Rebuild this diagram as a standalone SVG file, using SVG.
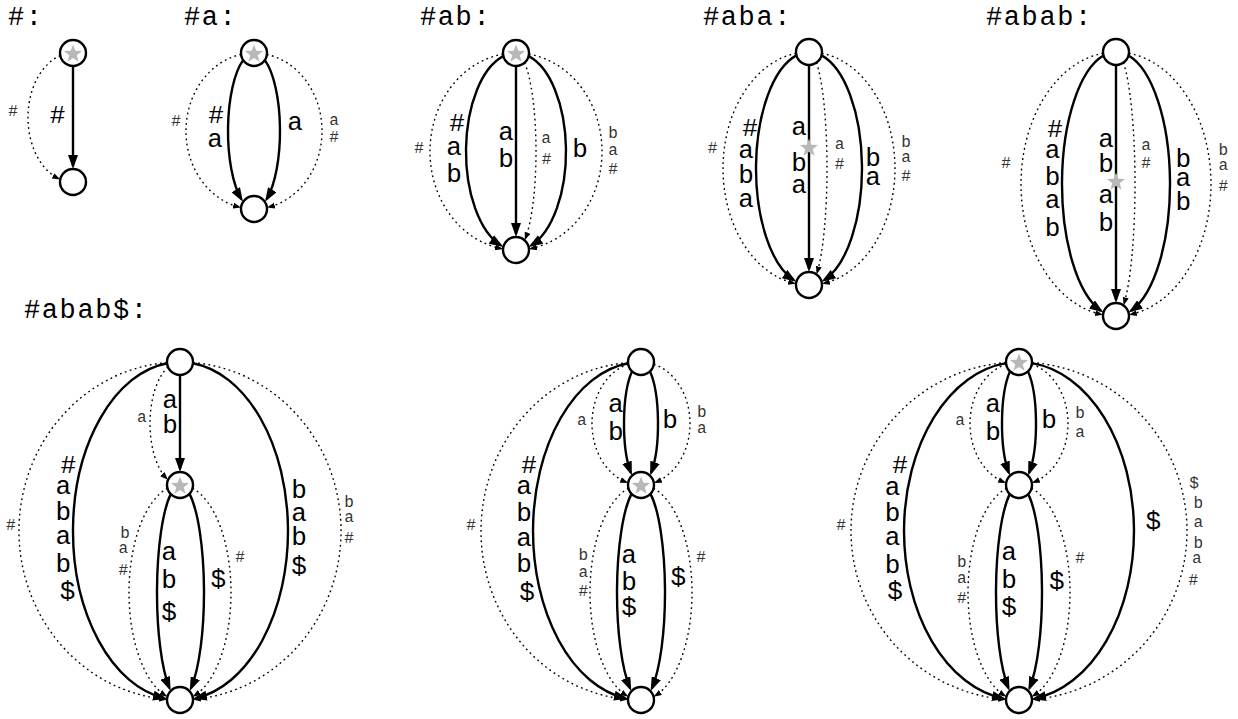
<svg xmlns="http://www.w3.org/2000/svg" xmlns:xlink="http://www.w3.org/1999/xlink" width="1238" height="719" viewBox="0 0 1238 719">
<defs>
<style>
.s{fill:none;stroke:#000;stroke-width:2.4;marker-end:url(#ah)}
.d{fill:none;stroke:#000;stroke-width:1.4;stroke-dasharray:1.8 3.4;marker-end:url(#ad)}
.n{fill:#fff;stroke:#000;stroke-width:2.4}
.st{fill:#b8b8b8}
.t{font-family:"Liberation Mono",monospace;font-size:27px;letter-spacing:1.6px;fill:#000}
.L{font-family:"Liberation Mono",monospace;font-size:26px;text-anchor:middle;fill:#000}
.m{font-family:"Liberation Mono",monospace;font-size:16px;text-anchor:middle;fill:#333}
</style>
<marker id="ah" viewBox="0 0 14 10" refX="11" refY="5" markerWidth="14" markerHeight="10" markerUnits="userSpaceOnUse" orient="auto"><path d="M0,0L14,5L0,10z" fill="#000"/></marker>
<marker id="ad" viewBox="0 0 8 6" refX="6" refY="3" markerWidth="8" markerHeight="6" markerUnits="userSpaceOnUse" orient="auto"><path d="M0,0L8,3L0,6z" fill="#000"/></marker>
<polygon id="star" points="0,-9.5 2.3,-3.16 9.04,-2.94 3.72,1.21 5.58,7.69 0,3.9 -5.58,7.69 -3.72,1.21 -9.04,-2.94 -2.3,-3.16"/>
</defs>
<rect width="1238" height="719" fill="#fff"/>

<g id="titles">
<text class="t" x="8" y="25">#:</text>
<text class="t" x="184" y="25">#a:</text>
<text class="t" x="420" y="25">#ab:</text>
<text class="t" x="703" y="25">#aba:</text>
<text class="t" x="986" y="25">#abab:</text>
<text class="t" x="24" y="318">#abab$:</text>
</g>

<g id="connectors">
<path class="s" d="M73,66V166"/>
<path class="d" d="M60.27,55.63A45,64.5 0 0 0 58.41,178.52"/>
<path class="s" d="M243.13,60.14A26,78 0 0 0 241.37,199.18"/>
<path class="s" d="M264.87,60.14A26,78 0 0 1 266.63,199.18"/>
<path class="d" d="M241.08,54.42A68,78 0 0 0 239.12,207.11"/>
<path class="d" d="M266.92,54.42A68,78 0 0 1 268.88,207.11"/>
<path class="s" d="M516,66V234"/>
<path class="s" d="M503.4,56.18A50,98.5 0 0 0 500.72,245.29"/>
<path class="s" d="M528.6,56.18A50,98.5 0 0 1 531.28,245.29"/>
<path class="d" d="M524.65,62.7A20,98.5 0 0 1 525.44,238.34"/>
<path class="d" d="M503.05,54.12A86,98.5 0 0 0 501.08,248.51"/>
<path class="d" d="M528.95,54.12A86,98.5 0 0 1 530.92,248.51"/>
<path class="s" d="M809,65V269"/>
<path class="s" d="M796.44,55.32A53,116.5 0 0 0 793.78,280.09"/>
<path class="s" d="M821.56,55.32A53,116.5 0 0 1 824.22,280.09"/>
<path class="d" d="M816.51,62.61A18,116.5 0 0 1 817.14,272.4"/>
<path class="d" d="M796.07,53.33A86,116.5 0 0 0 794.1,283.24"/>
<path class="d" d="M821.93,53.33A86,116.5 0 0 1 823.9,283.24"/>
<path class="s" d="M1116,65V300"/>
<path class="s" d="M1103.51,55.58A54,132 0 0 0 1100.9,310.74"/>
<path class="s" d="M1128.49,55.58A54,132 0 0 1 1131.1,310.74"/>
<path class="d" d="M1123.47,62.64A19,132 0 0 1 1124.11,303.38"/>
<path class="d" d="M1103.06,53.23A95,132 0 0 0 1101.09,314.36"/>
<path class="d" d="M1128.94,53.23A95,132 0 0 1 1130.91,314.36"/>
<path class="s" d="M180,375V469"/>
<path class="d" d="M168.04,367.1A30,61.5 0 0 0 166.51,478.43"/>
<path class="s" d="M167.06,363.24A107,169 0 0 0 164.11,698.13"/>
<path class="s" d="M192.94,363.22A108,169 0 0 1 195.89,698.16"/>
<path class="d" d="M167.01,362.55A161,169 0 0 0 165.02,699.27"/>
<path class="d" d="M192.99,362.55A161,169 0 0 1 194.98,699.27"/>
<path class="s" d="M170.73,494.12A23,107.5 0 0 0 169.43,687.98"/>
<path class="s" d="M189.53,493.84A24,107.5 0 0 1 190.9,688.28"/>
<path class="d" d="M167.43,488.32A51,107.5 0 0 0 165.65,695.66"/>
<path class="d" d="M192.57,488.32A51,107.5 0 0 1 194.35,695.66"/>
<path class="s" d="M631.98,371.37A17,61.5 0 0 0 630.79,472.68"/>
<path class="s" d="M650.02,371.37A17,61.5 0 0 1 651.21,472.68"/>
<path class="d" d="M628.18,364.14A49,61.5 0 0 0 626.27,482.16"/>
<path class="d" d="M653.82,364.14A49,61.5 0 0 1 655.73,482.16"/>
<path class="s" d="M628.06,363.22A108,169 0 0 0 625.11,698.16"/>
<path class="d" d="M628.02,362.56A160,169 0 0 0 626.02,699.26"/>
<path class="s" d="M631.47,493.84A24,107.5 0 0 0 630.1,688.28"/>
<path class="s" d="M650.53,493.84A24,107.5 0 0 1 651.9,688.28"/>
<path class="d" d="M628.43,488.32A51,107.5 0 0 0 626.65,695.66"/>
<path class="d" d="M653.57,488.32A51,107.5 0 0 1 655.35,695.66"/>
<path class="s" d="M1009.98,371.37A17,61.5 0 0 0 1008.79,472.68"/>
<path class="s" d="M1028.02,371.37A17,61.5 0 0 1 1029.21,472.68"/>
<path class="d" d="M1006.18,364.14A49,61.5 0 0 0 1004.27,482.16"/>
<path class="d" d="M1031.82,364.14A49,61.5 0 0 1 1033.73,482.16"/>
<path class="s" d="M1006.05,363.08A115,169 0 0 0 1003.08,698.37"/>
<path class="s" d="M1031.95,363.08A115,169 0 0 1 1034.92,698.37"/>
<path class="d" d="M1006.01,362.51A168,169 0 0 0 1004.02,699.33"/>
<path class="d" d="M1031.99,362.51A168,169 0 0 1 1033.98,699.33"/>
<path class="s" d="M1009.73,494.12A23,107.5 0 0 0 1008.43,687.98"/>
<path class="s" d="M1028.27,494.12A23,107.5 0 0 1 1029.57,687.98"/>
<path class="d" d="M1006.43,488.32A51,107.5 0 0 0 1004.65,695.66"/>
<path class="d" d="M1031.57,488.32A51,107.5 0 0 1 1033.35,695.66"/>
</g>

<g id="p4-active"><use xlink:href="#star" class="st" x="809" y="148"/></g>
<g id="p5-active"><use xlink:href="#star" class="st" x="1116" y="182"/></g>

<g id="p1-top"><circle class="n" cx="73" cy="53" r="13"/><use xlink:href="#star" class="st" x="73" y="54"/></g>
<g id="p1-bottom"><circle class="n" cx="73" cy="182" r="13"/></g>
<g id="p2-top"><circle class="n" cx="254" cy="53" r="13"/><use xlink:href="#star" class="st" x="254" y="54"/></g>
<g id="p2-bottom"><circle class="n" cx="254" cy="209" r="13"/></g>
<g id="p3-top"><circle class="n" cx="516" cy="53" r="13"/><use xlink:href="#star" class="st" x="516" y="54"/></g>
<g id="p3-bottom"><circle class="n" cx="516" cy="250" r="13"/></g>
<g id="p4-top"><circle class="n" cx="809" cy="52" r="13"/></g>
<g id="p4-bottom"><circle class="n" cx="809" cy="285" r="13"/></g>
<g id="p5-top"><circle class="n" cx="1116" cy="52" r="13"/></g>
<g id="p5-bottom"><circle class="n" cx="1116" cy="316" r="13"/></g>
<g id="p6-top"><circle class="n" cx="180" cy="362" r="13"/></g>
<g id="p6-middle"><circle class="n" cx="180" cy="485" r="13"/><use xlink:href="#star" class="st" x="180" y="486"/></g>
<g id="p6-bottom"><circle class="n" cx="180" cy="700" r="13"/></g>
<g id="p7-top"><circle class="n" cx="641" cy="362" r="13"/></g>
<g id="p7-middle"><circle class="n" cx="641" cy="485" r="13"/><use xlink:href="#star" class="st" x="641" y="486"/></g>
<g id="p7-bottom"><circle class="n" cx="641" cy="700" r="13"/></g>
<g id="p8-top"><circle class="n" cx="1019" cy="362" r="13"/><use xlink:href="#star" class="st" x="1019" y="363"/></g>
<g id="p8-middle"><circle class="n" cx="1019" cy="485" r="13"/></g>
<g id="p8-bottom"><circle class="n" cx="1019" cy="700" r="13"/></g>

<g id="labels">
<!-- panel 1 -->
<text class="L" x="57.5" y="123">#</text>
<text class="m" x="13" y="116">#</text>
<!-- panel 2 -->
<text class="L"><tspan x="216" y="123">#</tspan><tspan x="215" y="146.5">a</tspan></text>
<text class="L" x="295" y="130">a</text>
<text class="m" x="176" y="126">#</text>
<text class="m"><tspan x="334" y="125">a</tspan><tspan x="334" y="142">#</tspan></text>
<!-- panel 3 -->
<text class="L"><tspan x="457" y="131">#</tspan><tspan x="454" y="155">a</tspan><tspan x="454" y="181.5">b</tspan></text>
<text class="L"><tspan x="506" y="140">a</tspan><tspan x="506" y="166.5">b</tspan></text>
<text class="m"><tspan x="546" y="142.5">a</tspan><tspan x="546.5" y="164">#</tspan></text>
<text class="L" x="580" y="156.5">b</text>
<text class="m" x="419" y="153">#</text>
<text class="m"><tspan x="613" y="138.3">b</tspan><tspan x="613" y="155">a</tspan><tspan x="613" y="174">#</tspan></text>
<!-- panel 4 -->
<text class="L"><tspan x="750" y="136">#</tspan><tspan x="746" y="158.3">a</tspan><tspan x="746" y="183.3">b</tspan><tspan x="746" y="206.7">a</tspan></text>
<text class="L"><tspan x="799" y="135">a</tspan><tspan x="799" y="171">b</tspan><tspan x="799" y="193.3">a</tspan></text>
<text class="m"><tspan x="839.5" y="149">a</tspan><tspan x="839.5" y="169">#</tspan></text>
<text class="L"><tspan x="873" y="166">b</tspan><tspan x="873" y="185">a</tspan></text>
<text class="m" x="712.5" y="153">#</text>
<text class="m"><tspan x="906" y="146.7">b</tspan><tspan x="906" y="161.7">a</tspan><tspan x="906" y="181">#</tspan></text>
<!-- panel 5 -->
<text class="L"><tspan x="1055" y="136.7">#</tspan><tspan x="1052.5" y="158.3">a</tspan><tspan x="1052.5" y="185">b</tspan><tspan x="1052.5" y="208.3">a</tspan><tspan x="1052.5" y="236">b</tspan></text>
<text class="L"><tspan x="1106" y="146.7">a</tspan><tspan x="1106" y="171.7">b</tspan><tspan x="1106" y="203.3">a</tspan><tspan x="1106" y="231">b</tspan></text>
<text class="m"><tspan x="1146" y="150">a</tspan><tspan x="1146" y="168">#</tspan></text>
<text class="L"><tspan x="1183.3" y="166.7">b</tspan><tspan x="1183.3" y="186">a</tspan><tspan x="1183.3" y="210">b</tspan></text>
<text class="m" x="1006" y="168">#</text>
<text class="m"><tspan x="1223.3" y="155">b</tspan><tspan x="1223.3" y="170">a</tspan><tspan x="1223.3" y="191">#</tspan></text>
<!-- panel 6 -->
<text class="L"><tspan x="170" y="408.3">a</tspan><tspan x="170" y="433.3">b</tspan></text>
<text class="m" x="141.7" y="421.7">a</text>
<text class="L"><tspan x="68.3" y="473">#</tspan><tspan x="63.3" y="493.5">a</tspan><tspan x="63.3" y="520">b</tspan><tspan x="63.3" y="544">a</tspan><tspan x="63.3" y="571.5">b</tspan><tspan x="67.5" y="598.5">$</tspan></text>
<text class="L"><tspan x="299" y="498">b</tspan><tspan x="299" y="520.5">a</tspan><tspan x="299" y="545">b</tspan><tspan x="299" y="573.5">$</tspan></text>
<text class="m" x="10.8" y="530">#</text>
<text class="m"><tspan x="349" y="506.7">b</tspan><tspan x="349" y="521.7">a</tspan><tspan x="349" y="543">#</tspan></text>
<text class="m"><tspan x="125" y="538.3">b</tspan><tspan x="123.3" y="553.3">a</tspan><tspan x="123.3" y="575">#</tspan></text>
<text class="L"><tspan x="169" y="560">a</tspan><tspan x="169" y="588">b</tspan><tspan x="169" y="620">$</tspan></text>
<text class="L" x="218.3" y="587">$</text>
<text class="m" x="240" y="561.7">#</text>
<!-- panel 7 -->
<text class="L"><tspan x="615.8" y="411.5">a</tspan><tspan x="615.8" y="440">b</tspan></text>
<text class="L" x="670" y="428.3">b</text>
<text class="m" x="581.7" y="425">a</text>
<text class="m"><tspan x="701.7" y="416.7">b</tspan><tspan x="701.7" y="433.3">a</tspan></text>
<text class="L"><tspan x="529" y="473">#</tspan><tspan x="524" y="493.5">a</tspan><tspan x="524" y="520.5">b</tspan><tspan x="524" y="545.5">a</tspan><tspan x="524" y="572">b</tspan><tspan x="527" y="600">$</tspan></text>
<text class="m" x="471" y="530">#</text>
<text class="m"><tspan x="583.3" y="560">b</tspan><tspan x="583.3" y="576.7">a</tspan><tspan x="583.3" y="596">#</tspan></text>
<text class="L"><tspan x="629" y="563">a</tspan><tspan x="629" y="590">b</tspan><tspan x="629" y="615">$</tspan></text>
<text class="L" x="678.3" y="585">$</text>
<text class="m" x="701" y="561.7">#</text>
<!-- panel 8 -->
<text class="L"><tspan x="993" y="411.5">a</tspan><tspan x="993" y="440">b</tspan></text>
<text class="L" x="1049" y="428.3">b</text>
<text class="m" x="960" y="425">a</text>
<text class="m"><tspan x="1080" y="418.3">b</tspan><tspan x="1080" y="436.7">a</tspan></text>
<text class="L"><tspan x="900" y="473">#</tspan><tspan x="892.5" y="495">a</tspan><tspan x="892.5" y="521">b</tspan><tspan x="892.5" y="545">a</tspan><tspan x="892.5" y="573">b</tspan><tspan x="895" y="598.5">$</tspan></text>
<text class="L" x="1153.3" y="528.5">$</text>
<text class="m" x="841" y="530">#</text>
<text class="m"><tspan x="1194" y="488">$</tspan><tspan x="1198.3" y="508.3">b</tspan><tspan x="1198.3" y="526.7">a</tspan><tspan x="1198.3" y="548.3">b</tspan><tspan x="1196.7" y="563.3">a</tspan><tspan x="1193.3" y="585">#</tspan></text>
<text class="m"><tspan x="961.7" y="566.7">b</tspan><tspan x="961.7" y="583.3">a</tspan><tspan x="961.7" y="603">#</tspan></text>
<text class="L"><tspan x="1009" y="560">a</tspan><tspan x="1009" y="588.3">b</tspan><tspan x="1009" y="615">$</tspan></text>
<text class="L" x="1056.7" y="588.5">$</text>
<text class="m" x="1080" y="563">#</text>
</g>
</svg>
